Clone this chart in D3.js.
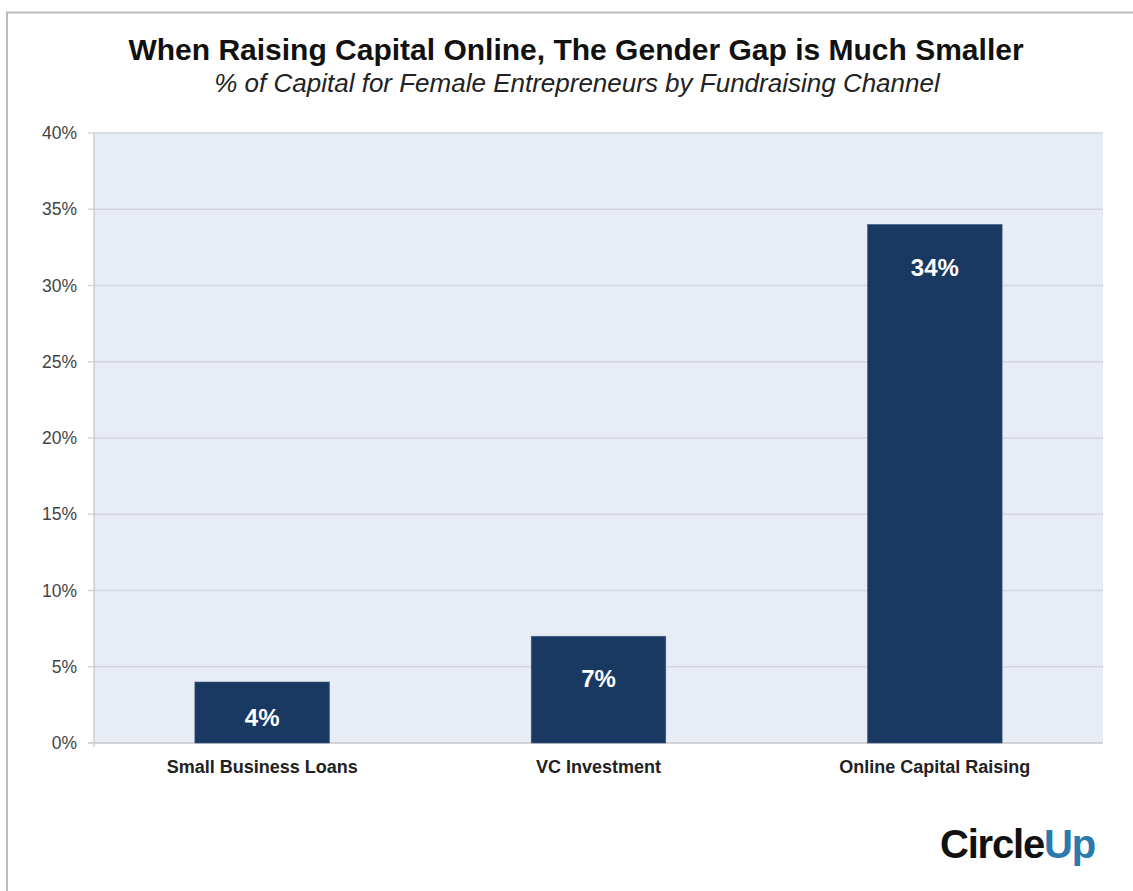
<!DOCTYPE html>
<html><head><meta charset="utf-8">
<script src="https://cdn.jsdelivr.net/npm/d3@7"></script>
<style>body{margin:0;background:#fff;}svg{display:block;}</style>
</head><body>
<script>
const categories = ["Small Business Loans", "VC Investment", "Online Capital Raising"];
const values = [4, 7, 34];
const yTicks = [0, 5, 10, 15, 20, 25, 30, 35, 40];
const title = "When Raising Capital Online, The Gender Gap is Much Smaller";
const subtitle = "% of Capital for Female Entrepreneurs by Fundraising Channel";

const W = 1133, H = 891;
const svg = d3.select("body").append("svg").attr("width", W).attr("height", H);

// frame
svg.append("line").attr("x1", 6).attr("x2", W).attr("y1", 12.5).attr("y2", 12.5)
  .attr("stroke", "#bdbdbd").attr("stroke-width", 2);
svg.append("line").attr("x1", 7).attr("x2", 7).attr("y1", 12).attr("y2", H)
  .attr("stroke", "#bdbdbd").attr("stroke-width", 2);

const m = {left: 94, right: 1103, top: 133, bottom: 743};
const x = d3.scaleBand().domain(categories).range([m.left, m.right]).paddingInner(0.6).paddingOuter(0.3);
const y = d3.scaleLinear().domain([0, 40]).range([m.bottom, m.top]);

svg.append("rect").attr("x", m.left).attr("y", m.top).attr("width", m.right - m.left)
  .attr("height", m.bottom - m.top).attr("fill", "#e8ecf4");

// gridlines
svg.append("g").selectAll("line").data(yTicks).join("line")
  .attr("x1", m.left - 6).attr("x2", m.right)
  .attr("y1", d => y(d)).attr("y2", d => y(d))
  .attr("stroke", d => d === 0 ? "#c8c8cc" : "#d3d6de").attr("stroke-width", 1.3);
svg.append("line").attr("x1", m.left).attr("x2", m.left).attr("y1", m.top).attr("y2", m.bottom + 4)
  .attr("stroke", "#c8c8cc").attr("stroke-width", 1.3);

// y axis labels
const yAxis = d3.axisLeft(y).tickValues(yTicks).tickFormat(d => d + "%").tickSize(0).tickPadding(17);
const ga = svg.append("g").attr("transform", `translate(${m.left},0)`).call(yAxis);
ga.select(".domain").remove();
ga.selectAll("text").attr("font-family", "Liberation Sans, Arial, sans-serif")
  .attr("font-size", 17.5).attr("fill", "#444");

// bars
svg.append("g").selectAll("rect").data(values).join("rect")
  .attr("x", (d, i) => x(categories[i])).attr("width", x.bandwidth())
  .attr("y", d => y(d)).attr("height", d => y(0) - y(d))
  .attr("fill", "#193862").attr("stroke", "#3b5a80").attr("stroke-width", 0.6);

svg.append("g").selectAll("text").data(values).join("text")
  .attr("x", (d, i) => x(categories[i]) + x.bandwidth() / 2)
  .attr("y", d => Math.min(y(d) + 51, y(0) - 17))
  .attr("text-anchor", "middle").attr("font-family", "Liberation Sans, Arial, sans-serif")
  .attr("font-weight", "bold").attr("font-size", 24).attr("fill", "#fff")
  .text(d => d + "%");

// x labels
const xAxis = d3.axisBottom(x).tickSize(0).tickPadding(17);
const gx = svg.append("g").attr("transform", `translate(0,${m.bottom})`).call(xAxis);
gx.select(".domain").remove();
gx.selectAll("text").attr("font-family", "Liberation Sans, Arial, sans-serif")
  .attr("font-weight", "bold").attr("font-size", 18).attr("fill", "#222");

// titles
svg.append("text").attr("x", 576).attr("y", 60).attr("text-anchor", "middle")
  .attr("font-family", "Liberation Sans, Arial, sans-serif").attr("font-weight", "bold")
  .attr("font-size", 30).attr("fill", "#111").text(title);
svg.append("text").attr("x", 577).attr("y", 92).attr("text-anchor", "middle")
  .attr("font-family", "Liberation Sans, Arial, sans-serif").attr("font-style", "italic")
  .attr("font-size", 26).attr("fill", "#222").text(subtitle);

// logo
const logo = svg.append("text").attr("x", 940).attr("y", 858)
  .attr("font-family", "Liberation Sans, Arial, sans-serif").attr("font-weight", "bold")
  .attr("font-size", 40).attr("letter-spacing", -1.2);
logo.append("tspan").attr("fill", "#111").text("Circle");
logo.append("tspan").attr("fill", "#2b79ad").text("Up");
</script>
</body></html>
